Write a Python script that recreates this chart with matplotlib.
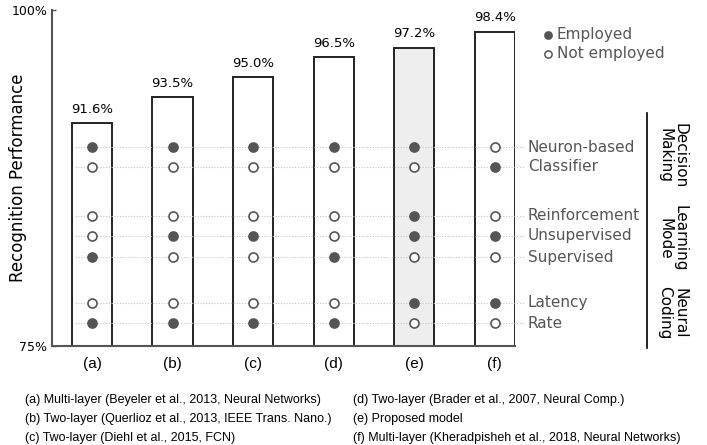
import numpy as np
import matplotlib
matplotlib.use("Agg")
import matplotlib.pyplot as plt

models = ["(a)", "(b)", "(c)", "(d)", "(e)", "(f)"]
accuracy = [91.6, 93.5, 95.0, 96.5, 97.2, 98.4]

features = ["Neuron-based", "Classifier", "Reinforcement", "Unsupervised",
            "Supervised", "Latency", "Rate"]
# 1 = employed, 0 = not employed; one row per model, columns follow features
employed = [
    [1, 0, 0, 0, 1, 0, 1],
    [1, 0, 0, 1, 0, 0, 1],
    [1, 0, 0, 1, 0, 0, 1],
    [1, 0, 0, 0, 1, 0, 1],
    [1, 0, 1, 1, 0, 1, 0],
    [0, 1, 0, 1, 0, 1, 0],
]
groups = ["Decision\nMaking", "Learning\nMode", "Neural\nCoding"]
captions_left = [
    "(a) Multi-layer (Beyeler et al., 2013, Neural Networks)",
    "(b) Two-layer (Querlioz et al., 2013, IEEE Trans. Nano.)",
    "(c) Two-layer (Diehl et al., 2015, FCN)",
]
captions_right = [
    "(d) Two-layer (Brader et al., 2007, Neural Comp.)",
    "(e) Proposed model",
    "(f) Multi-layer (Kheradpisheh et al., 2018, Neural Networks)",
]

# layout: vertical position of each feature row and each group label
row_y = [89.8, 88.35, 84.7, 83.2, 81.6, 78.2, 76.7]
group_y = [89.2, 83.0, 77.45]

gray = "#555555"
narrow = ["Liberation Sans Narrow", "Liberation Sans", "DejaVu Sans"]

fig = plt.figure(figsize=(7.07, 4.45), dpi=100)
ax = fig.add_axes([52 / 707, 99 / 445, 463 / 707, 336 / 445])

x = np.arange(len(models))
faces = ["#eeeeee" if m == "(e)" else "white" for m in models]
ax.bar(x, np.array(accuracy) - 75, bottom=75, width=0.5, color=faces,
       edgecolor="#222222", linewidth=1.4, zorder=2)
for xi, v in zip(x, accuracy):
    ax.text(xi, v + 0.55, f"{v:.1f}%", ha="center", va="bottom", fontsize=9.5,
            color="black", zorder=5)

# dotted guide lines and markers
for j, yv in enumerate(row_y):
    ax.plot([-0.21, 5.36], [yv, yv], ls=(0, (1, 1.5)), color="#c4c4c4",
            lw=0.8, zorder=3, clip_on=False)
    ax.text(5.41, yv, features[j], ha="left", va="center", fontsize=11,
            color=gray)
    for i in range(len(models)):
        on = employed[i][j]
        ax.plot(x[i], yv, "o", ms=6.5, mec=gray, mew=1.2,
                mfc=gray if on else "white", zorder=4)

# legend
ax.plot(5.66, 98.15, "o", ms=5.2, mec=gray, mfc=gray, mew=1.1, clip_on=False)
ax.plot(5.66, 96.75, "o", ms=5.2, mec=gray, mfc="white", mew=1.1, clip_on=False)
ax.text(5.77, 98.15, "Employed", ha="left", va="center", fontsize=11, color=gray)
ax.text(5.77, 96.75, "Not employed", ha="left", va="center", fontsize=11, color=gray)

# right-hand bracket with group names
ax.plot([6.886, 6.886], [92.35, 74.85], color="black", lw=1.2, clip_on=False)
for g, gy in zip(groups, group_y):
    ax.text(7.2, gy, g, rotation=270, ha="center", va="center", fontsize=11,
            color="black", linespacing=1.0)

ax.set_xlim(-0.496, 5.25)
ax.set_ylim(75, 100)
ax.set_yticks([75, 100])
ax.set_yticklabels(["75%", "100%"], fontsize=9)
ax.set_xticks(x)
ax.set_xticklabels(models, fontsize=11, family=narrow)
ax.tick_params(axis="both", direction="in", length=3, color=gray, width=1)
ax.tick_params(axis="x", pad=8)
ax.set_ylabel("Recognition Performance", fontsize=12)
ax.yaxis.set_label_coords(-0.054, 0.5)
for side in ["top", "right"]:
    ax.spines[side].set_visible(False)
for side in ["left", "bottom"]:
    ax.spines[side].set_color(gray)
    ax.spines[side].set_linewidth(1.5)

for k, c in enumerate(captions_left):
    fig.text(25 / 707, 1 - (400 + 19 * k) / 445, c, ha="left", va="center",
             fontsize=9, family=narrow)
for k, c in enumerate(captions_right):
    fig.text(353 / 707, 1 - (400 + 19 * k) / 445, c, ha="left", va="center",
             fontsize=9, family=narrow)

fig.savefig("out.png", dpi=100)
